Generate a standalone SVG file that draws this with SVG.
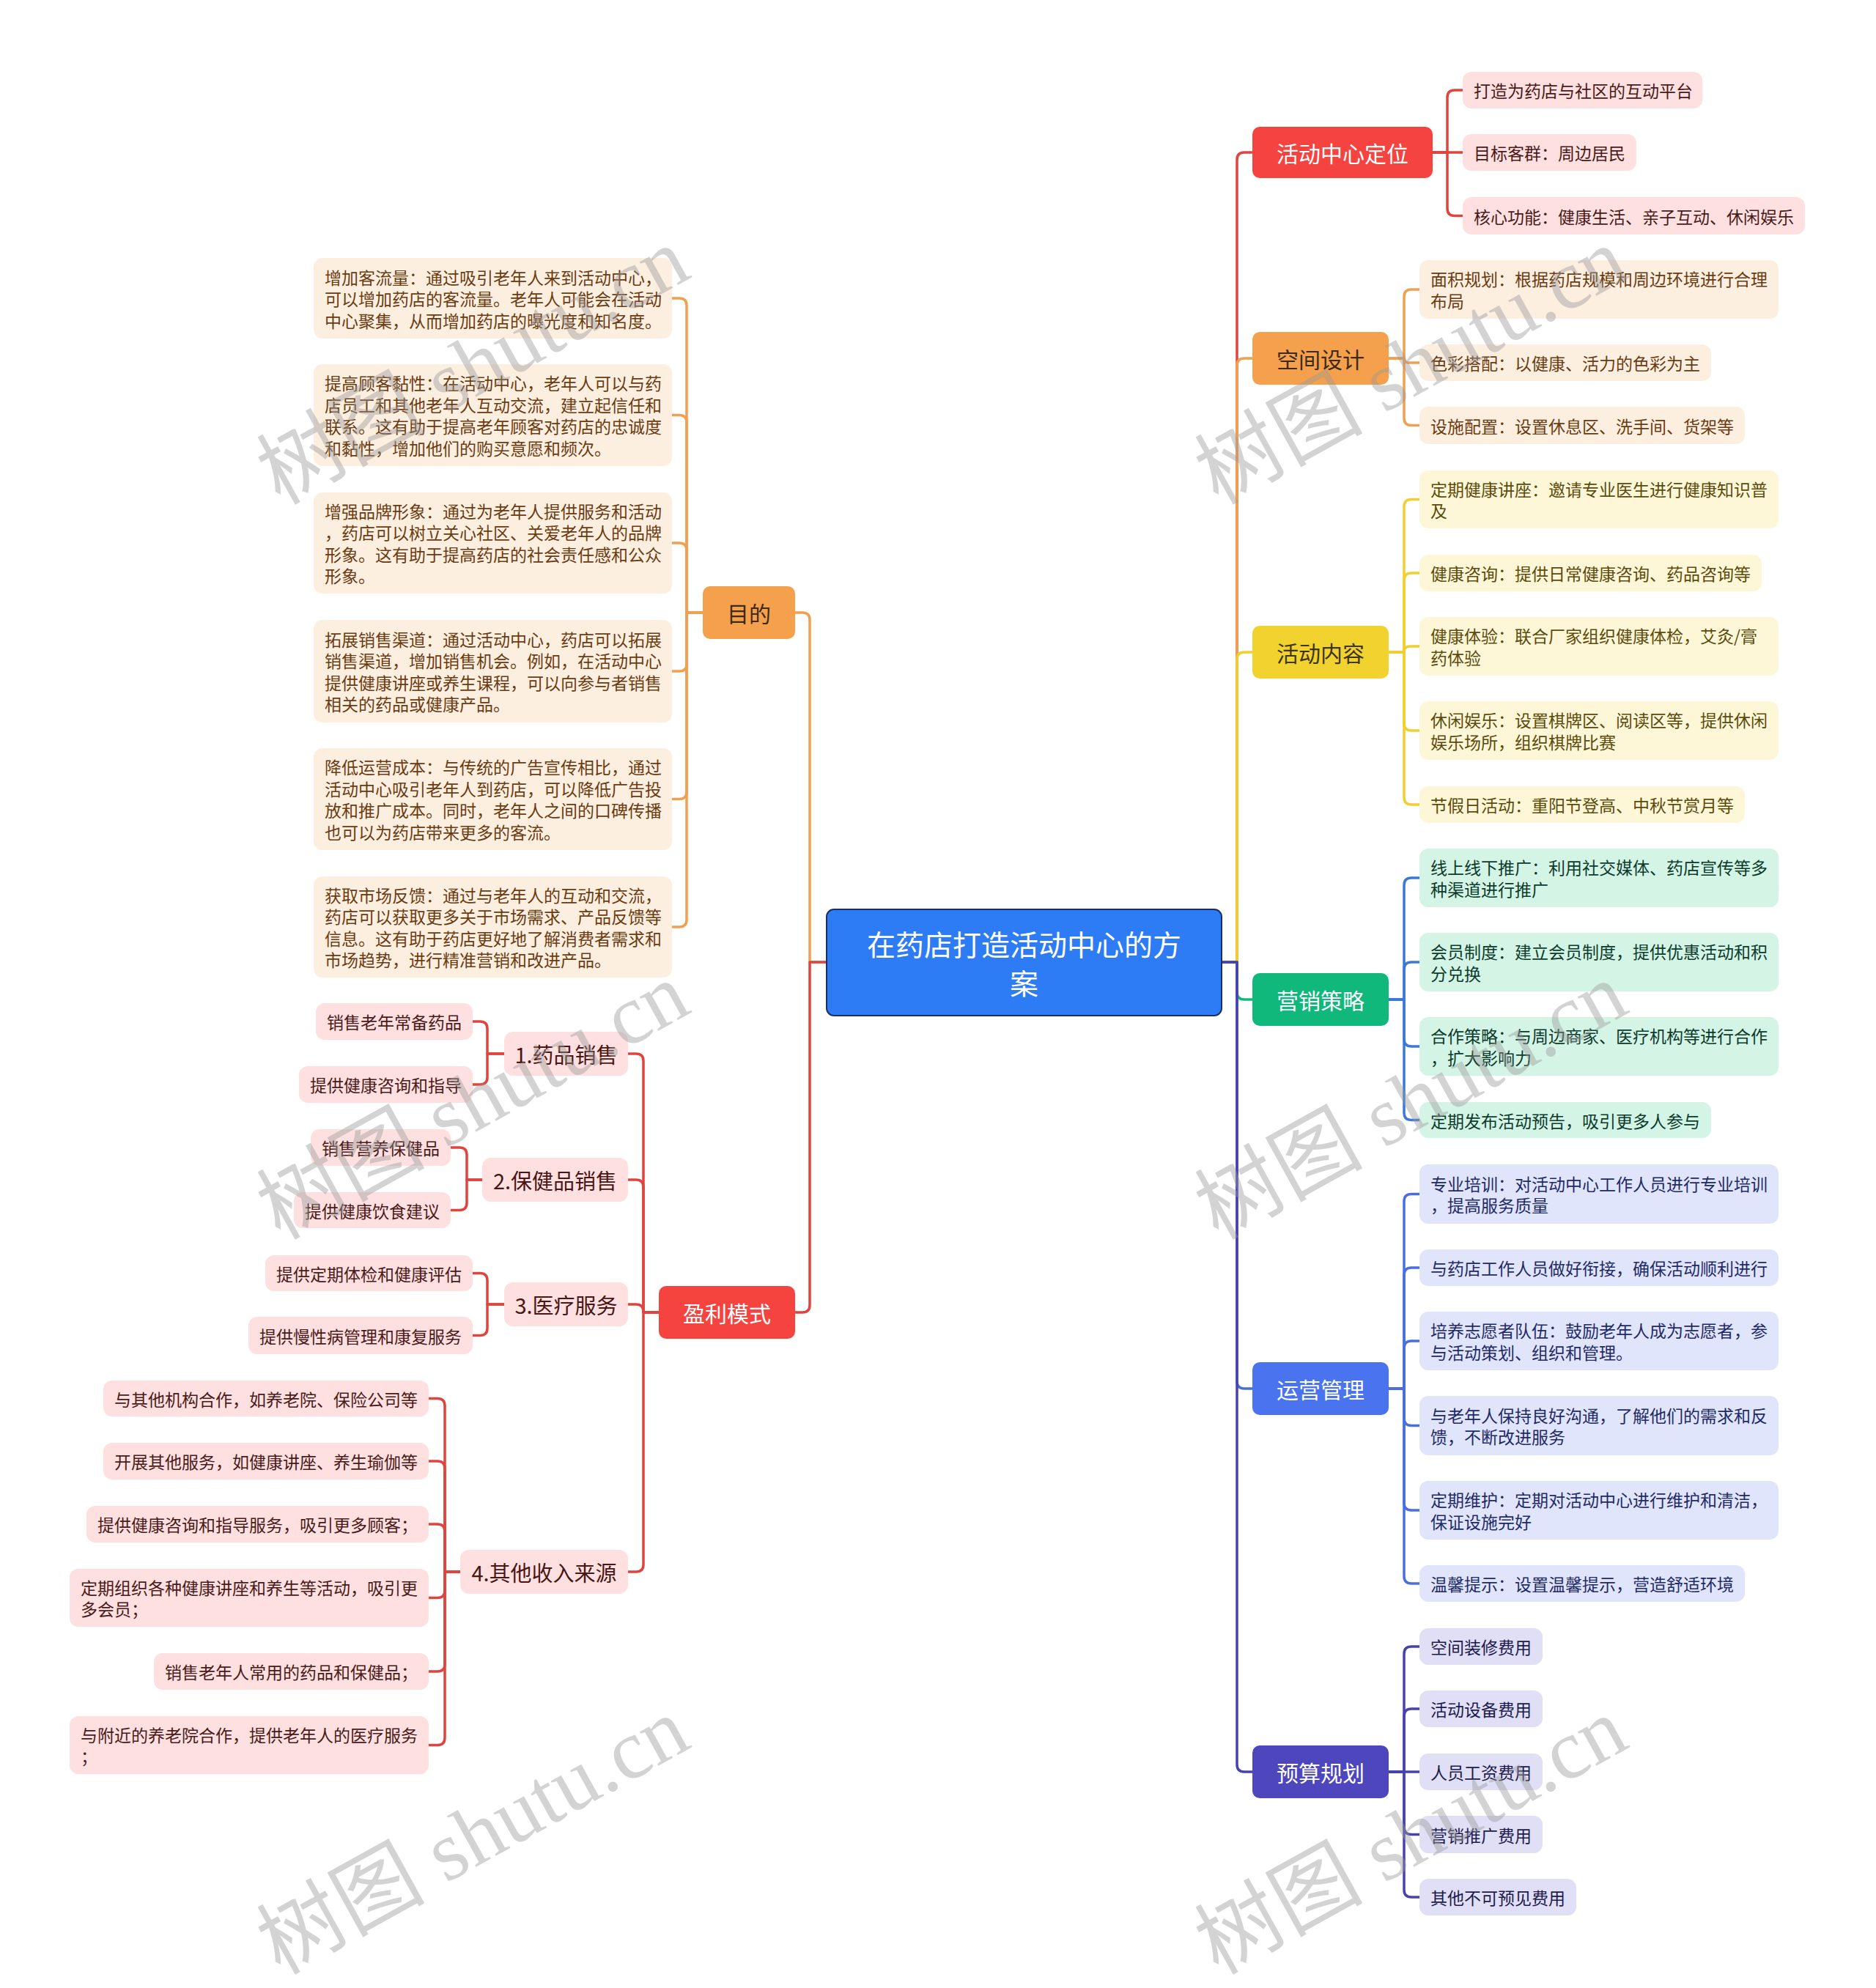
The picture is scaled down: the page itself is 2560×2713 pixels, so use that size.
<svg xmlns="http://www.w3.org/2000/svg" width="2560" height="2713" viewBox="0 0 2560 2713">
<style>
text{font-family:"Noto Sans CJK SC","Noto Sans",sans-serif;dominant-baseline:central}
.c{fill:none;stroke-width:3.5;stroke-linecap:round;stroke-linejoin:round}
.t1{font-size:39px;fill:#fff;text-anchor:middle}
.t2{font-size:30px;text-anchor:middle}
.t3{font-size:29px;text-anchor:middle;fill:#4a1515}
.lf{font-size:23px}
.w{fill:#fff}
.dk{fill:#3d2a12}
.pk{fill:#fde0df}.pkt{fill:#4a1a1a}
.pe{fill:#fdefe0}.pet{fill:#6b3b12}
.ye{fill:#fdf7d8}.yet{fill:#5c4b0c}
.gr{fill:#d4f4e6}.grt{fill:#0c3b2c}
.bl{fill:#e0e5fc}.blt{fill:#1f2a66}
.la{fill:#e0dff5}.lat{fill:#1d1b4d}
.wm{font-family:"Liberation Serif","Noto Sans CJK SC",serif;font-size:115px;fill:#999;opacity:0.42;dominant-baseline:alphabetic}
</style>

<g id="connectors">
  <path class="c" stroke="#e0443f" d="M1667,1313 H1688 V218 Q1688,208 1698,208 H1709"/>
  <path class="c" stroke="#f0a050" d="M1667,1313 H1688 V499 Q1688,489 1698,489 H1709"/>
  <path class="c" stroke="#f0cf30" d="M1667,1313 H1688 V900 Q1688,890 1698,890 H1709"/>
  <path class="c" stroke="#10b97b" d="M1667,1313 H1688 V1354 Q1688,1364 1698,1364 H1709"/>
  <path class="c" stroke="#4a6ee0" d="M1667,1313 H1688 V1885 Q1688,1895 1698,1895 H1709"/>
  <path class="c" stroke="#4743ad" d="M1667,1313 H1688 V2408 Q1688,2418 1698,2418 H1709"/>
  <path class="c" stroke="#f0a050" d="M1128,1313 H1105 V846 Q1105,836 1095,836 H1085"/>
  <path class="c" stroke="#e0443f" d="M1128,1313 H1105 V1781 Q1105,1791 1095,1791 H1085"/>
  <g stroke="#e0443f">
    <path class="c" d="M1955,208 H1975 V133 Q1975,123 1985,123 H1996"/>
    <path class="c" d="M1955,208 H1996"/>
    <path class="c" d="M1955,208 H1975 V284.5 Q1975,294.5 1985,294.5 H1996"/>
  </g>
  <g stroke="#f0a050">
    <path class="c" d="M1895,489 H1916 V405 Q1916,395 1926,395 H1937"/>
    <path class="c" d="M1895,489 H1916 Q1916,495 1922,495 H1937"/>
    <path class="c" d="M1895,489 H1916 V570.5 Q1916,580.5 1926,580.5 H1937"/>
  </g>
  <g stroke="#f0cf30">
    <path class="c" d="M1895,890 H1916 V691.5 Q1916,681.5 1926,681.5 H1937"/>
    <path class="c" d="M1895,890 H1916 V792 Q1916,782 1926,782 H1937"/>
    <path class="c" d="M1895,890 H1916 Q1916,882 1924,882 H1937"/>
    <path class="c" d="M1895,890 H1916 V987 Q1916,997 1926,997 H1937"/>
    <path class="c" d="M1895,890 H1916 V1088 Q1916,1098 1926,1098 H1937"/>
  </g>
  <g stroke="#3c78d8">
    <path class="c" d="M1895,1364 H1916 V1208 Q1916,1198 1926,1198 H1937"/>
    <path class="c" d="M1895,1364 H1916 V1323 Q1916,1313 1926,1313 H1937"/>
    <path class="c" d="M1895,1364 H1916 V1418 Q1916,1428 1926,1428 H1937"/>
    <path class="c" d="M1895,1364 H1916 V1518.5 Q1916,1528.5 1926,1528.5 H1937"/>
  </g>
  <g stroke="#4a6ee0">
    <path class="c" d="M1895,1895 H1916 V1639.5 Q1916,1629.5 1926,1629.5 H1937"/>
    <path class="c" d="M1895,1895 H1916 V1740 Q1916,1730 1926,1730 H1937"/>
    <path class="c" d="M1895,1895 H1916 V1840 Q1916,1830 1926,1830 H1937"/>
    <path class="c" d="M1895,1895 H1916 V1935.5 Q1916,1945.5 1926,1945.5 H1937"/>
    <path class="c" d="M1895,1895 H1916 V2051 Q1916,2061 1926,2061 H1937"/>
    <path class="c" d="M1895,1895 H1916 V2151 Q1916,2161 1926,2161 H1937"/>
  </g>
  <g stroke="#4743ad">
    <path class="c" d="M1895,2418 H1916 V2257 Q1916,2247 1926,2247 H1937"/>
    <path class="c" d="M1895,2418 H1916 V2342 Q1916,2332 1926,2332 H1937"/>
    <path class="c" d="M1895,2418 H1937"/>
    <path class="c" d="M1895,2418 H1916 V2493.5 Q1916,2503.5 1926,2503.5 H1937"/>
    <path class="c" d="M1895,2418 H1916 V2579 Q1916,2589 1926,2589 H1937"/>
  </g>
  <g stroke="#f0a050">
    <path class="c" d="M959,836 H937 V417 Q937,407 927,407 H917"/>
    <path class="c" d="M959,836 H937 V576.5 Q937,566.5 927,566.5 H917"/>
    <path class="c" d="M959,836 H937 V751 Q937,741 927,741 H917"/>
    <path class="c" d="M959,836 H937 V906 Q937,916 927,916 H917"/>
    <path class="c" d="M959,836 H937 V1080.5 Q937,1090.5 927,1090.5 H917"/>
    <path class="c" d="M959,836 H937 V1255 Q937,1265 927,1265 H917"/>
  </g>
  <g stroke="#e0443f">
    <path class="c" d="M900,1791 H878 V1448 Q878,1438 868,1438 H857"/>
    <path class="c" d="M900,1791 H878 V1620 Q878,1610 868,1610 H857"/>
    <path class="c" d="M900,1791 H878 V1790 Q878,1780 868,1780 H857"/>
    <path class="c" d="M900,1791 H878 V2135 Q878,2145 868,2145 H857"/>
    <path class="c" d="M688,1438 H665 V1404 Q665,1394 655,1394 H645"/>
    <path class="c" d="M688,1438 H665 V1470 Q665,1480 655,1480 H645"/>
    <path class="c" d="M658,1610 H637 V1576 Q637,1566 627,1566 H615"/>
    <path class="c" d="M658,1610 H637 V1641.5 Q637,1651.5 627,1651.5 H615"/>
    <path class="c" d="M688,1780 H665 V1747.5 Q665,1737.5 655,1737.5 H645"/>
    <path class="c" d="M688,1780 H665 V1812.5 Q665,1822.5 655,1822.5 H645"/>
    <path class="c" d="M628,2145 H607 V1918.5 Q607,1908.5 597,1908.5 H585"/>
    <path class="c" d="M628,2145 H607 V2004 Q607,1994 597,1994 H585"/>
    <path class="c" d="M628,2145 H607 V2090 Q607,2080 597,2080 H585"/>
    <path class="c" d="M628,2145 H607 V2170.5 Q607,2180.5 597,2180.5 H585"/>
    <path class="c" d="M628,2145 H607 V2271 Q607,2281 597,2281 H585"/>
    <path class="c" d="M628,2145 H607 V2371.5 Q607,2381.5 597,2381.5 H585"/>
  </g>
</g>

<g id="center">
  <rect x="1128" y="1241" width="539" height="145" rx="10" fill="#2d7cf6" stroke="#1b2f66" stroke-width="2"/>
  <text class="t1" x="1397.5" y="1287">在药店打造活动中心的方</text>
  <text class="t1" x="1397.5" y="1340">案</text>
</g>

<g id="n-dingwei"><rect x="1709" y="173" width="246" height="70" rx="10" fill="#f5443f"/><text class="t2 w" x="1832" y="208">活动中心定位</text></g>
<g id="n-kongjian"><rect x="1709" y="453" width="186" height="72" rx="10" fill="#f4a04c"/><text class="t2 dk" x="1802" y="489">空间设计</text></g>
<g id="n-neirong"><rect x="1709" y="854" width="186" height="72" rx="10" fill="#f2d22e"/><text class="t2" fill="#3d3510" x="1802" y="890">活动内容</text></g>
<g id="n-yingxiao"><rect x="1709" y="1328" width="186" height="72" rx="10" fill="#10b97b"/><text class="t2 w" x="1802" y="1364">营销策略</text></g>
<g id="n-yunying"><rect x="1709" y="1859" width="186" height="72" rx="10" fill="#4a73f0"/><text class="t2 w" x="1802" y="1895">运营管理</text></g>
<g id="n-yusuan"><rect x="1709" y="2382" width="186" height="72" rx="10" fill="#4e46bc"/><text class="t2 w" x="1802" y="2418">预算规划</text></g>
<g id="n-mudi"><rect x="959" y="800" width="126" height="72" rx="10" fill="#f4a04c"/><text class="t2 dk" x="1022" y="836">目的</text></g>
<g id="n-yingli"><rect x="899" y="1755" width="186" height="72" rx="10" fill="#f5443f"/><text class="t2 w" x="992" y="1791">盈利模式</text></g>

<g id="d1"><rect class="pk" x="1996" y="98" width="327" height="50" rx="12"/><text class="lf pkt" x="2011" y="123">打造为药店与社区的互动平台</text></g>
<g id="d2"><rect class="pk" x="1996" y="183" width="237" height="50" rx="12"/><text class="lf pkt" x="2011" y="208">目标客群：周边居民</text></g>
<g id="d3"><rect class="pk" x="1996" y="269" width="467" height="51" rx="12"/><text class="lf pkt" x="2011" y="294.5">核心功能：健康生活、亲子互动、休闲娱乐</text></g>

<g id="k1"><rect class="pe" x="1937" y="355" width="490" height="80" rx="12"/><text class="lf pet"><tspan x="1952" y="380.25">面积规划：根据药店规模和周边环境进行合理</tspan><tspan x="1952" y="409.75">布局</tspan></text></g>
<g id="k2"><rect class="pe" x="1937" y="470" width="398" height="50" rx="12"/><text class="lf pet" x="1952" y="495">色彩搭配：以健康、活力的色彩为主</text></g>
<g id="k3"><rect class="pe" x="1937" y="555" width="444" height="51" rx="12"/><text class="lf pet" x="1952" y="580.5">设施配置：设置休息区、洗手间、货架等</text></g>

<g id="h1"><rect class="ye" x="1937" y="642" width="490" height="79" rx="12"/><text class="lf yet"><tspan x="1952" y="666.75">定期健康讲座：邀请专业医生进行健康知识普</tspan><tspan x="1952" y="696.25">及</tspan></text></g>
<g id="h2"><rect class="ye" x="1937" y="757" width="467" height="50" rx="12"/><text class="lf yet" x="1952" y="782">健康咨询：提供日常健康咨询、药品咨询等</text></g>
<g id="h3"><rect class="ye" x="1937" y="842" width="490" height="80" rx="12"/><text class="lf yet"><tspan x="1952" y="867.25">健康体验：联合厂家组织健康体检，艾灸/膏</tspan><tspan x="1952" y="896.75">药体验</tspan></text></g>
<g id="h4"><rect class="ye" x="1937" y="957" width="490" height="80" rx="12"/><text class="lf yet"><tspan x="1952" y="982.25">休闲娱乐：设置棋牌区、阅读区等，提供休闲</tspan><tspan x="1952" y="1011.75">娱乐场所，组织棋牌比赛</tspan></text></g>
<g id="h5"><rect class="ye" x="1937" y="1073" width="444" height="50" rx="12"/><text class="lf yet" x="1952" y="1098">节假日活动：重阳节登高、中秋节赏月等</text></g>

<g id="y1"><rect class="gr" x="1937" y="1158" width="490" height="80" rx="12"/><text class="lf grt"><tspan x="1952" y="1183.25">线上线下推广：利用社交媒体、药店宣传等多</tspan><tspan x="1952" y="1212.75">种渠道进行推广</tspan></text></g>
<g id="y2"><rect class="gr" x="1937" y="1273" width="490" height="80" rx="12"/><text class="lf grt"><tspan x="1952" y="1298.25">会员制度：建立会员制度，提供优惠活动和积</tspan><tspan x="1952" y="1327.75">分兑换</tspan></text></g>
<g id="y3"><rect class="gr" x="1937" y="1388" width="490" height="80" rx="12"/><text class="lf grt"><tspan x="1952" y="1413.25">合作策略：与周边商家、医疗机构等进行合作</tspan><tspan x="1952" y="1442.75">，扩大影响力</tspan></text></g>
<g id="y4"><rect class="gr" x="1937" y="1504" width="398" height="49" rx="12"/><text class="lf grt" x="1952" y="1528.5">定期发布活动预告，吸引更多人参与</text></g>

<g id="g1"><rect class="bl" x="1937" y="1589" width="490" height="81" rx="12"/><text class="lf blt"><tspan x="1952" y="1614.75">专业培训：对活动中心工作人员进行专业培训</tspan><tspan x="1952" y="1644.25">，提高服务质量</tspan></text></g>
<g id="g2"><rect class="bl" x="1937" y="1705" width="490" height="50" rx="12"/><text class="lf blt" x="1952" y="1730">与药店工作人员做好衔接，确保活动顺利进行</text></g>
<g id="g3"><rect class="bl" x="1937" y="1790" width="490" height="80" rx="12"/><text class="lf blt"><tspan x="1952" y="1815.25">培养志愿者队伍：鼓励老年人成为志愿者，参</tspan><tspan x="1952" y="1844.75">与活动策划、组织和管理。</tspan></text></g>
<g id="g4"><rect class="bl" x="1937" y="1905" width="490" height="81" rx="12"/><text class="lf blt"><tspan x="1952" y="1930.75">与老年人保持良好沟通，了解他们的需求和反</tspan><tspan x="1952" y="1960.25">馈，不断改进服务</tspan></text></g>
<g id="g5"><rect class="bl" x="1937" y="2021" width="490" height="80" rx="12"/><text class="lf blt"><tspan x="1952" y="2046.25">定期维护：定期对活动中心进行维护和清洁，</tspan><tspan x="1952" y="2075.75">保证设施完好</tspan></text></g>
<g id="g6"><rect class="bl" x="1937" y="2136" width="444" height="50" rx="12"/><text class="lf blt" x="1952" y="2161">温馨提示：设置温馨提示，营造舒适环境</text></g>

<g id="b1"><rect class="la" x="1937" y="2222" width="168" height="50" rx="12"/><text class="lf lat" x="1952" y="2247">空间装修费用</text></g>
<g id="b2"><rect class="la" x="1937" y="2307" width="168" height="50" rx="12"/><text class="lf lat" x="1952" y="2332">活动设备费用</text></g>
<g id="b3"><rect class="la" x="1937" y="2393" width="168" height="50" rx="12"/><text class="lf lat" x="1952" y="2418">人员工资费用</text></g>
<g id="b4"><rect class="la" x="1937" y="2478" width="168" height="51" rx="12"/><text class="lf lat" x="1952" y="2503.5">营销推广费用</text></g>
<g id="b5"><rect class="la" x="1937" y="2564" width="214" height="50" rx="12"/><text class="lf lat" x="1952" y="2589">其他不可预见费用</text></g>

<g id="m1"><rect class="pe" x="428" y="352" width="489" height="110" rx="12"/><text class="lf pet"><tspan x="443" y="377.5">增加客流量：通过吸引老年人来到活动中心，</tspan><tspan x="443" y="407">可以增加药店的客流量。老年人可能会在活动</tspan><tspan x="443" y="436.5">中心聚集，从而增加药店的曝光度和知名度。</tspan></text></g>
<g id="m2"><rect class="pe" x="428" y="497" width="489" height="139" rx="12"/><text class="lf pet"><tspan x="443" y="522.25">提高顾客黏性：在活动中心，老年人可以与药</tspan><tspan x="443" y="551.75">店员工和其他老年人互动交流，建立起信任和</tspan><tspan x="443" y="581.25">联系。这有助于提高老年顾客对药店的忠诚度</tspan><tspan x="443" y="610.75">和黏性，增加他们的购买意愿和频次。</tspan></text></g>
<g id="m3"><rect class="pe" x="428" y="672" width="489" height="138" rx="12"/><text class="lf pet"><tspan x="443" y="696.75">增强品牌形象：通过为老年人提供服务和活动</tspan><tspan x="443" y="726.25">，药店可以树立关心社区、关爱老年人的品牌</tspan><tspan x="443" y="755.75">形象。这有助于提高药店的社会责任感和公众</tspan><tspan x="443" y="785.25">形象。</tspan></text></g>
<g id="m4"><rect class="pe" x="428" y="846" width="489" height="140" rx="12"/><text class="lf pet"><tspan x="443" y="871.75">拓展销售渠道：通过活动中心，药店可以拓展</tspan><tspan x="443" y="901.25">销售渠道，增加销售机会。例如，在活动中心</tspan><tspan x="443" y="930.75">提供健康讲座或养生课程，可以向参与者销售</tspan><tspan x="443" y="960.25">相关的药品或健康产品。</tspan></text></g>
<g id="m5"><rect class="pe" x="428" y="1021" width="489" height="139" rx="12"/><text class="lf pet"><tspan x="443" y="1046.25">降低运营成本：与传统的广告宣传相比，通过</tspan><tspan x="443" y="1075.75">活动中心吸引老年人到药店，可以降低广告投</tspan><tspan x="443" y="1105.25">放和推广成本。同时，老年人之间的口碑传播</tspan><tspan x="443" y="1134.75">也可以为药店带来更多的客流。</tspan></text></g>
<g id="m6"><rect class="pe" x="428" y="1196" width="489" height="138" rx="12"/><text class="lf pet"><tspan x="443" y="1220.75">获取市场反馈：通过与老年人的互动和交流，</tspan><tspan x="443" y="1250.25">药店可以获取更多关于市场需求、产品反馈等</tspan><tspan x="443" y="1279.75">信息。这有助于药店更好地了解消费者需求和</tspan><tspan x="443" y="1309.25">市场趋势，进行精准营销和改进产品。</tspan></text></g>

<g id="p1"><rect class="pk" x="688" y="1408" width="169" height="60" rx="12"/><text class="t3" x="772.5" y="1438">1.药品销售</text></g>
<g id="p2"><rect class="pk" x="658" y="1580" width="199" height="60" rx="12"/><text class="t3" x="757.5" y="1610">2.保健品销售</text></g>
<g id="p3"><rect class="pk" x="688" y="1750" width="169" height="60" rx="12"/><text class="t3" x="772.5" y="1780">3.医疗服务</text></g>
<g id="p4"><rect class="pk" x="628" y="2115" width="229" height="60" rx="12"/><text class="t3" x="742.5" y="2145">4.其他收入来源</text></g>

<g id="q1"><rect class="pk" x="431" y="1369" width="214" height="50" rx="12"/><text class="lf pkt" x="446" y="1394">销售老年常备药品</text></g>
<g id="q2"><rect class="pk" x="408" y="1455" width="237" height="50" rx="12"/><text class="lf pkt" x="423" y="1480">提供健康咨询和指导</text></g>
<g id="q3"><rect class="pk" x="424" y="1541" width="191" height="50" rx="12"/><text class="lf pkt" x="439" y="1566">销售营养保健品</text></g>
<g id="q4"><rect class="pk" x="401" y="1627" width="214" height="49" rx="12"/><text class="lf pkt" x="416" y="1651.5">提供健康饮食建议</text></g>
<g id="q5"><rect class="pk" x="362" y="1713" width="283" height="49" rx="12"/><text class="lf pkt" x="377" y="1737.5">提供定期体检和健康评估</text></g>
<g id="q6"><rect class="pk" x="339" y="1797" width="306" height="51" rx="12"/><text class="lf pkt" x="354" y="1822.5">提供慢性病管理和康复服务</text></g>
<g id="r1"><rect class="pk" x="141" y="1884" width="444" height="49" rx="12"/><text class="lf pkt" x="156" y="1908.5">与其他机构合作，如养老院、保险公司等</text></g>
<g id="r2"><rect class="pk" x="141" y="1969" width="444" height="50" rx="12"/><text class="lf pkt" x="156" y="1994">开展其他服务，如健康讲座、养生瑜伽等</text></g>
<g id="r3"><rect class="pk" x="118" y="2055" width="467" height="50" rx="12"/><text class="lf pkt" x="133" y="2080">提供健康咨询和指导服务，吸引更多顾客；</text></g>
<g id="r4"><rect class="pk" x="95" y="2141" width="490" height="79" rx="12"/><text class="lf pkt"><tspan x="110" y="2165.75">定期组织各种健康讲座和养生等活动，吸引更</tspan><tspan x="110" y="2195.25">多会员；</tspan></text></g>
<g id="r5"><rect class="pk" x="210" y="2256" width="375" height="50" rx="12"/><text class="lf pkt" x="225" y="2281">销售老年人常用的药品和保健品；</text></g>
<g id="r6"><rect class="pk" x="95" y="2342" width="490" height="79" rx="12"/><text class="lf pkt"><tspan x="110" y="2366.75">与附近的养老院合作，提供老年人的医疗服务</tspan><tspan x="110" y="2396.25">；</tspan></text></g>

<g id="watermarks">
  <text class="wm" transform="translate(382,690) rotate(-29)">树图 shutu.cn</text>
  <text class="wm" transform="translate(382,1693) rotate(-29)">树图 shutu.cn</text>
  <text class="wm" transform="translate(382,2696) rotate(-29)">树图 shutu.cn</text>
  <text class="wm" transform="translate(1662,690) rotate(-29)">树图 shutu.cn</text>
  <text class="wm" transform="translate(1662,1693) rotate(-29)">树图 shutu.cn</text>
  <text class="wm" transform="translate(1662,2696) rotate(-29)">树图 shutu.cn</text>
</g>
</svg>
